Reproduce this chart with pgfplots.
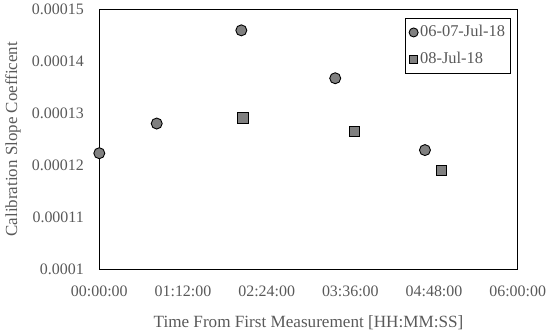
\documentclass[border=0pt]{standalone}
\usepackage{fontspec}
\setmainfont{Liberation Serif}
\usepackage{pgfplots}
\pgfplotsset{compat=1.18}
\definecolor{txt}{HTML}{595959}
\definecolor{mk}{HTML}{808080}
\begin{document}
\fontsize{16}{19}\selectfont
\begin{tikzpicture}
\path[use as bounding box] (-99.3bp,-65.7bp) rectangle (450.7bp,269.3bp);
\begin{axis}[
  at={(0,0)}, anchor=south west,
  scale only axis, width=418.4bp, height=260.3bp,
  xmin=0, xmax=360, ymin=0.0001, ymax=0.00015,
  xtick={0,72,144,216,288,360},
  xticklabels={00:00:00,01:12:00,02:24:00,03:36:00,04:48:00,06:00:00},
  ytick={0.0001,0.00011,0.00012,0.00013,0.00014,0.00015},
  yticklabels={0.0001,0.00011,0.00012,0.00013,0.00014,0.00015},
  scaled y ticks=false,
  tick style={draw=none},
  axis line style={black, line width=0.9bp},
  ticklabel style={text=txt, font=\fontsize{16}{19}\selectfont},
  yticklabel style={xshift=-10bp},
  xticklabel style={yshift=-11bp},
  xlabel={Time From First Measurement [HH:MM:SS]},
  ylabel={Calibration Slope Coefficent},
  xlabel style={text=txt, font=\fontsize{17.2}{20}\selectfont, at={(axis description cs:0.5,-0.2036)}, anchor=center},
  ylabel style={text=txt, font=\fontsize{17}{20}\selectfont, at={(axis description cs:-0.2063,0.5)}, anchor=center},
  legend style={at={(0.984,0.965)}, anchor=north east, draw=black, line width=0.9bp,
    text=txt, font=\fontsize{16.5}{19}\selectfont, row sep=9bp, inner xsep=3.5bp, inner ysep=5bp},
  legend cell align=left,
  legend image code/.code={\draw[#1, every mark/.append style={scale=0.82}] plot coordinates {(0cm,0cm)};},
  clip=false,
]
\addplot[only marks, mark=*, mark size=5.5bp, mark options={fill=mk, draw=black, line width=0.9bp}]
  coordinates {(0,0.0001223) (49.4,0.0001280) (122.2,0.0001459) (203,0.0001367) (280.2,0.0001229)};
\addlegendentry{06-07-Jul-18}
\addplot[only marks, mark=square*, mark size=5.2bp, mark options={fill=mk, draw=black, line width=0.9bp}]
  coordinates {(123.6,0.0001291) (219.4,0.0001265) (294.3,0.0001190)};
\addlegendentry{08-Jul-18}
\end{axis}
\end{tikzpicture}
\end{document}
